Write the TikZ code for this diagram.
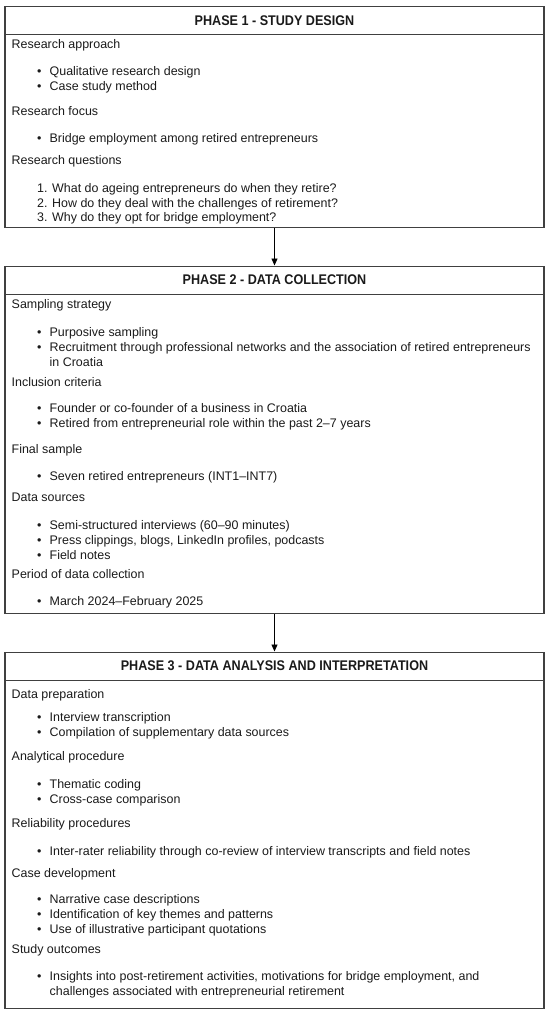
\documentclass[tikz,border=0pt]{standalone}
\usepackage{fontspec}
\setmainfont{Liberation Sans}
\newfontfamily\ttlfont{Liberation Sans}[FakeStretch=0.9]
\usetikzlibrary{arrows.meta,positioning}

\definecolor{edge}{HTML}{404040}
\definecolor{ink}{HTML}{1A1A1A}

\begin{document}
\begin{tikzpicture}[
  x=1pt, y=-1pt,
  phase/.style={draw=edge, line width=1.1pt, minimum width=539pt, anchor=north, inner sep=0pt},
  ttl/.style={draw=edge, line width=1.1pt, minimum width=539pt, minimum height=28pt, anchor=north,
    inner sep=0pt, font=\ttlfont\fontsize{14}{16}\selectfont\bfseries, text=ink},
  head/.style={anchor=base west, inner sep=0pt, font=\fontsize{12.45}{15}\selectfont, text=ink},
  item/.style={head},
  arr/.style={-{Triangle[length=7pt,width=6pt]}, line width=0.9pt, black},
]
  \useasboundingbox (0,0) rectangle (550,1014);
  \newcommand{\bul}{\makebox[12.5pt][l]{\textbullet}}

  % ── Phase 1: Study design ──
  \node[phase, minimum height=221pt] (ph1) at (274.5,6) {};
  \node[ttl] (ttl1) at (ph1.north) {PHASE 1 - STUDY DESIGN};
  \node[head] (approach) at (11.5,49) {Research approach};
  \node[item] (approach1) at (37,76) {\bul Qualitative research design};
  \node[item] (approach2) at (37,91) {\bul Case study method};
  \node[head] (focus) at (11.5,116) {Research focus};
  \node[item] (focus1) at (37,142.5) {\bul Bridge employment among retired entrepreneurs};
  \node[head] (questions) at (11.5,164.5) {Research questions};
  \node[item] (question1) at (37,192.5) {1. What do ageing entrepreneurs do when they retire?};
  \node[item] (question2) at (37,207) {2. How do they deal with the challenges of retirement?};
  \node[item] (question3) at (37,221.5) {3. Why do they opt for bridge employment?};

  % ── Phase 2: Data collection ──
  \node[phase, minimum height=347.5pt] (ph2) at (274.5,265.5) {};
  \node[ttl] (ttl2) at (ph2.north) {PHASE 2 - DATA COLLECTION};
  \node[head] (sampling) at (11.5,308) {Sampling strategy};
  \node[item] (sampling1) at (37,336) {\bul Purposive sampling};
  \node[item] (sampling2) at (37,351.5) {\bul Recruitment through professional networks and the association of retired entrepreneurs};
  \node[item] (sampling2b) at (49.5,366) {in Croatia};
  \node[head] (criteria) at (11.5,386) {Inclusion criteria};
  \node[item] (criteria1) at (37,412.5) {\bul Founder or co-founder of a business in Croatia};
  \node[item] (criteria2) at (37,427.5) {\bul Retired from entrepreneurial role within the past 2–7 years};
  \node[head] (sample) at (11.5,453) {Final sample};
  \node[item] (sample1) at (37,480.5) {\bul Seven retired entrepreneurs (INT1–INT7)};
  \node[head] (sources) at (11.5,501.5) {Data sources};
  \node[item] (sources1) at (37,529) {\bul Semi-structured interviews (60–90 minutes)};
  \node[item] (sources2) at (37,544) {\bul Press clippings, blogs, LinkedIn profiles, podcasts};
  \node[item] (sources3) at (37,559) {\bul Field notes};
  \node[head] (period) at (11.5,578) {Period of data collection};
  \node[item] (period1) at (37,605.5) {\bul March 2024–February 2025};

  % ── Phase 3: Data analysis and interpretation ──
  \node[phase, minimum height=356.5pt] (ph3) at (274.5,651.5) {};
  \node[ttl] (ttl3) at (ph3.north) {PHASE 3 - DATA ANALYSIS AND INTERPRETATION};
  \node[head] (preparation) at (11.5,698) {Data preparation};
  \node[item] (preparation1) at (37,721.5) {\bul Interview transcription};
  \node[item] (preparation2) at (37,736.5) {\bul Compilation of supplementary data sources};
  \node[head] (procedure) at (11.5,760) {Analytical procedure};
  \node[item] (procedure1) at (37,788) {\bul Thematic coding};
  \node[item] (procedure2) at (37,803) {\bul Cross-case comparison};
  \node[head] (reliability) at (11.5,827) {Reliability procedures};
  \node[item] (reliability1) at (37,855.5) {\bul Inter-rater reliability through co-review of interview transcripts and field notes};
  \node[head] (casedev) at (11.5,877) {Case development};
  \node[item] (casedev1) at (37,903) {\bul Narrative case descriptions};
  \node[item] (casedev2) at (37,918.5) {\bul Identification of key themes and patterns};
  \node[item] (casedev3) at (37,933) {\bul Use of illustrative participant quotations};
  \node[head] (outcomes) at (11.5,953) {Study outcomes};
  \node[item] (outcomes1) at (37,980) {\bul Insights into post-retirement activities, motivations for bridge employment, and};
  \node[item] (outcomes1b) at (49.5,995) {challenges associated with entrepreneurial retirement};

  % Arrows between phases
  \draw[arr] (ph1.south) -- (ph2.north);
  \draw[arr] (ph2.south) -- (ph3.north);

\end{tikzpicture}
\end{document}
